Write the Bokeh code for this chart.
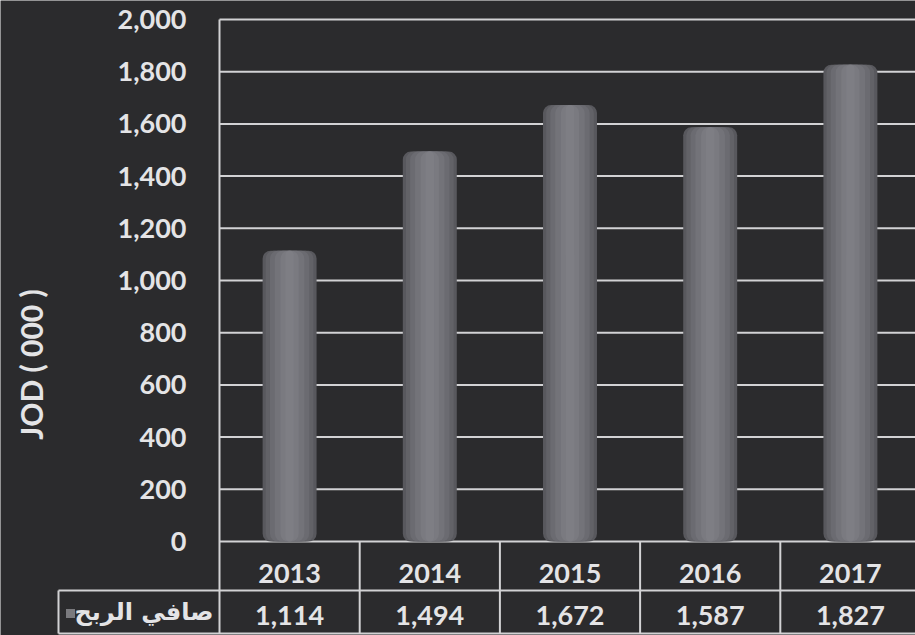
import math
from bokeh.plotting import figure
from bokeh.models import Range1d, FixedTicker, NumeralTickFormatter
from bokeh.core.properties import value
from bokeh.embed import file_html
from bokeh.resources import INLINE

# ---------------- data ----------------
years = ["2013", "2014", "2015", "2016", "2017"]
net_profit = [1114, 1494, 1672, 1587, 1827]
y_ticks = [0, 200, 400, 600, 800, 1000, 1200, 1400, 1600, 1800, 2000]
series_name = "صافي الربح"
y_title = "JOD ( 000 )"

# ---------------- layout ----------------
W, H = 915, 635
TOP_TICK_PX = 19
ZERO_PX = 541
AXIS_PX = 219
COL_PX = 140.2
Y_MAX = 2000
K = (ZERO_PX - TOP_TICK_PX) / Y_MAX


def ydata(px):
    return Y_MAX - (px - TOP_TICK_PX) / K


def xdata(px):
    return -0.5 + (px - AXIS_PX) / COL_PX


BG = "#2b2b2d"
FG = "#e4e4e6"
LINE = "#d2d2d4"
FONT = value("Lato")

idx = list(range(len(years)))

p = figure(width=W, height=H, output_backend="svg", toolbar_location=None,
           x_range=Range1d(xdata(0), xdata(W)), y_range=Range1d(ydata(H), ydata(0)),
           x_axis_type=None, y_axis_location="left",
           min_border=0, background_fill_color=BG, border_fill_color=BG,
           outline_line_color=None)
p.xgrid.visible = False
p.ygrid.visible = False

ax = p.yaxis[0]
ax.fixed_location = -0.5
ax.bounds = (ydata(633), Y_MAX)
ax.ticker = FixedTicker(ticks=y_ticks)
ax.formatter = NumeralTickFormatter(format="0,0")
ax.major_tick_line_color = None
ax.minor_tick_line_color = None
ax.axis_line_color = LINE
ax.axis_line_width = 2
ax.major_label_standoff = 27
ax.major_label_text_font = "Lato"
ax.major_label_text_font_style = "bold"
ax.major_label_text_font_size = "27px"
ax.major_label_text_color = FG

# grid lines
x_right = xdata(W + 10)
p.segment(x0=[-0.5] * len(y_ticks), x1=[x_right] * len(y_ticks), y0=y_ticks, y1=y_ticks,
          line_color=LINE, line_width=2)

# bars (cylinder-like shading)
layers = [(0.385, "#58585d"), (0.34, "#626267"), (0.28, "#6b6b71"),
          (0.21, "#737379"), (0.13, "#7a7a80"), (0.06, "#7e7e84")]
for w, c in layers:
    p.vbar(x=idx, top=net_profit, bottom=0, width=w, fill_color=c, line_color=None,
           border_radius=8)

# data table
row_split = ydata(590)
table_bottom = ydata(633)
legend_left = xdata(58)
col_bounds = [i + 0.5 for i in idx[:-1]]
p.segment(x0=col_bounds, x1=col_bounds, y0=[0] * len(col_bounds),
          y1=[table_bottom] * len(col_bounds), line_color=LINE, line_width=2)
p.segment(x0=[legend_left, legend_left, legend_left],
          x1=[x_right, x_right, legend_left],
          y0=[row_split, table_bottom, row_split],
          y1=[row_split, table_bottom, table_bottom],
          line_color=LINE, line_width=2)

p.text(x=idx, y=[ydata(573)] * len(years), text=years, text_font=FONT,
       text_font_style="bold", text_font_size="27px", text_color=FG,
       text_align="center", text_baseline="middle")
p.text(x=idx, y=[ydata(615)] * len(years), text=[f"{v:,}" for v in net_profit],
       text_font=FONT, text_font_style="bold", text_font_size="27px", text_color=FG,
       text_align="center", text_baseline="middle")

# legend key
p.text(x=[xdata(213)], y=[ydata(611)], text=[series_name], text_font=value("DejaVu Sans"),
       text_font_style="bold", text_font_size="24px", text_color=FG,
       text_align="right", text_baseline="middle")
p.scatter(x=[xdata(70)], y=[ydata(613)], marker="square", size=9,
          fill_color="#7a7a7e", line_color=None)

# y axis title
p.text(x=[xdata(30)], y=[ydata(364)], text=[y_title], text_font=FONT,
       text_font_style="bold", text_font_size="30px", text_color=FG,
       text_align="center", text_baseline="middle", angle=math.pi / 2)

open("out.html", "w").write(file_html(p, INLINE))
